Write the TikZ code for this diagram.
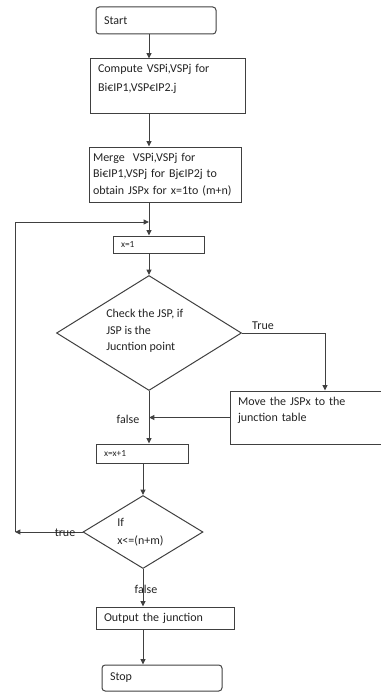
\documentclass[tikz,border=0pt]{standalone}
\usepackage{fontspec}
\setmainfont{Carlito}
\usetikzlibrary{arrows.meta,positioning,shapes.geometric,calc}
\definecolor{linegray}{RGB}{64,64,64}
\definecolor{textgray}{RGB}{35,35,35}
\tikzset{
  stepnode/.style={draw=linegray,line width=0.75pt,rectangle,align=left,inner xsep=6pt,inner ysep=0pt,
    font=\fontsize{9}{12.4}\selectfont,text=textgray},
  termnode/.style={stepnode,rounded corners=2.4pt},
  smallnode/.style={stepnode,font=\fontsize{7}{8}\selectfont},
  decnode/.style={draw=linegray,line width=0.75pt,diamond,inner sep=0pt},
  dectext/.style={align=left,inner sep=0pt,font=\fontsize{9}{12.4}\selectfont,text=textgray},
  flow/.style={-{Triangle[length=4pt,width=3.6pt]},line width=0.75pt,draw=linegray},
  edgelabel/.style={font=\fontsize{9}{11}\selectfont,text=textgray,inner sep=1pt}
}

\begin{document}
\begin{tikzpicture}[x=0.75pt,y=-0.75pt]
  \useasboundingbox (0,0) rectangle (381,692);
  \node[termnode,minimum width=90pt,text width=78pt,minimum height=20.25pt] (start) at (156,20.5) {Start};
  \node[stepnode,minimum width=116.25pt,text width=104.25pt,minimum height=40.5pt] (comp) at (167.5,86)
    {Compute VSPi,VSPj for\\[2pt]Bi€IP1,VSP€IP2.j\\\mbox{}};
  \node[stepnode,inner xsep=3pt,minimum width=114pt,text width=108pt,minimum height=41.25pt] (merge) at (165,174.5)
    {Merge~ VSPi,VSPj for\\Bi€IP1,VSPj for Bj€IP2j to\\obtain JSPx for x=1to (m+n)};
  \node[smallnode,minimum width=68.25pt,text width=56.25pt,minimum height=12.75pt] (x1) at (158.5,244.5) {x=1};
  \node[decnode,minimum width=138.75pt,minimum height=86.25pt] (d1) at (149,333) {};
  \node[dectext,anchor=west] (d1txt) at (106,331) {Check the JSP, if\\JSP is the\\Jucntion point};
  \node[stepnode,minimum width=127.5pt,text width=115.5pt,minimum height=39.75pt] (move) at (315,417.5)
    {Move the JSPx to the\\junction table\\\mbox{}};
  \node[smallnode,minimum width=69pt,text width=57pt,minimum height=14.25pt] (xx1) at (142,453.5) {x=x+1};
  \node[decnode,minimum width=90pt,minimum height=54.75pt] (d2) at (143,532) {};
  \node[dectext,anchor=west] (d2txt) at (117,532) {If\\[1pt]x<=(n+m)};
  \node[stepnode,minimum width=103.5pt,text width=91.5pt,minimum height=16.5pt] (out) at (165,618) {Output the junction};
  \node[termnode,minimum width=90pt,text width=78pt,minimum height=19.5pt] (stop) at (162,678) {Stop};

  \coordinate (up) at (149,0);
  \coordinate (lt) at (149,222);
  \coordinate (lb) at (15,532);

  \draw[flow] (start.south -| up) -- (comp.north -| up);
  \draw[flow] (comp.south -| up) -- (merge.north -| up);
  \draw[flow] (merge.south -| up) -- (x1.north -| up);
  \draw[flow] (x1.south -| d1.north) -- (d1.north);
  \draw[flow] (d1.east) -| ([xshift=7.5pt]move.north);
  \draw[flow] (move.west) -- (move.west -| d1.south);
  \draw[flow] (d1.south) -- (d1.south |- xx1.north);
  \draw[flow] (xx1.south -| d2.north) -- (d2.north);
  \draw[flow] (d2.west) -- (lb);
  \draw[flow] (lb) |- (lt);
  \draw[flow] (d2.south) -- (d2.south |- out.north);
  \draw[flow] (out.south -| d2.south) -- (stop.north -| d2.south);

  \node[edgelabel] (lbtrue1) at (263,326) {True};
  \node[edgelabel] (lbfalse1) at (128,419) {false};
  \node[edgelabel] (lbtrue2) at (65,533) {true};
  \node[edgelabel] (lbfalse2) at (146,589) {false};
\end{tikzpicture}
\end{document}
